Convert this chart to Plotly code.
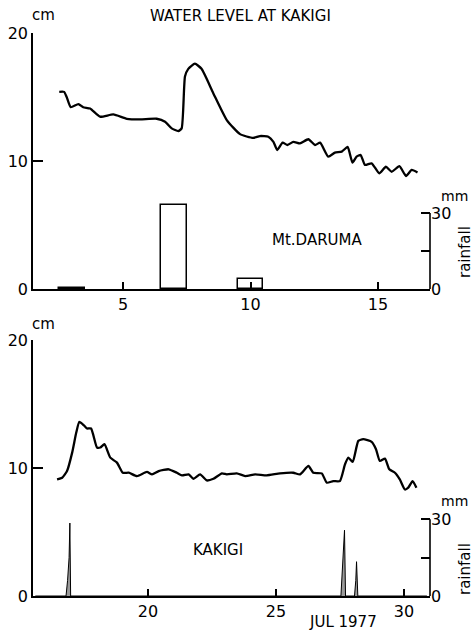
import plotly.graph_objects as go

# ---- data: water level at Kakigi (cm), July 1977 ----
top_day = [2.5, 2.69, 2.79, 2.95, 3.25, 3.44, 3.71, 4.1, 4.62, 5.15, 5.67, 6.32, 6.65, 6.91,
           7.17, 7.3, 7.43, 7.56, 7.82, 8.08, 8.54, 9.07, 9.59, 10.1, 10.37, 10.7, 10.9,
           11.05, 11.26, 11.45, 11.68, 11.94, 12.27, 12.53, 12.73, 13.05, 13.31, 13.58,
           13.81, 14.0, 14.16, 14.32, 14.49, 14.75, 15.05, 15.31, 15.54, 15.84, 16.1,
           16.32, 16.55]
top_level = [15.4, 15.4, 15.0, 14.2, 14.45, 14.2, 14.1, 13.46, 13.64, 13.3, 13.25, 13.3,
             13.07, 12.55, 12.34, 12.55, 16.6, 17.2, 17.6, 17.2, 15.3, 13.2, 12.1, 11.8,
             11.95, 11.9, 11.5, 10.86, 11.43, 11.25, 11.5, 11.38, 11.7, 11.25, 11.43,
             10.34, 10.65, 10.73, 11.1, 9.87, 10.34, 10.47, 9.69, 9.82, 9.04, 9.55, 9.16,
             9.6, 8.83, 9.3, 9.1]

bot_day = [16.45, 16.65, 16.84, 17.04, 17.2, 17.32, 17.49, 17.62, 17.78, 18.01, 18.14,
           18.3, 18.53, 18.79, 19.02, 19.25, 19.57, 19.96, 20.16, 20.42, 20.81, 21.13,
           21.33, 21.59, 21.78, 22.04, 22.3, 22.56, 22.89, 23.08, 23.47, 23.8, 24.19,
           24.64, 25.16, 25.68, 25.94, 26.27, 26.46, 26.79, 26.99, 27.24, 27.5, 27.7,
           27.83, 28.0, 28.22, 28.41, 28.74, 28.91, 29.06, 29.26, 29.43, 29.65, 29.84,
           30.04, 30.17, 30.34, 30.49]
bot_level = [9.11, 9.24, 9.76, 11.2, 12.77, 13.6, 13.35, 13.09, 13.09, 11.6, 11.6, 11.86,
             10.81, 10.42, 9.63, 9.63, 9.37, 9.69, 9.5, 9.76, 9.9, 9.63, 9.42, 9.5, 9.16,
             9.5, 9.03, 9.16, 9.58, 9.5, 9.58, 9.37, 9.5, 9.42, 9.58, 9.63, 9.5, 10.16,
             9.63, 9.58, 8.85, 8.98, 8.98, 10.29, 10.81, 10.47, 12.12, 12.25, 12.04, 11.47,
             10.55, 10.73, 9.9, 9.63, 9.11, 8.32, 8.46, 8.98, 8.46]

# ---- rainfall (mm) ----
daruma_day = [3, 7, 10]
daruma_rain = [0.3, 33, 4]

kakigi_rain_day = [15.6, 16.80, 16.86, 16.92, 16.95, 16.98, 27.54, 27.6, 27.66, 27.68,
                   27.72, 28.07, 28.12, 28.15, 28.2, 30.9]
kakigi_rain = [0, 0, 6, 15, 28.5, 0, 0, 10, 20, 25.7, 0, 0, 6, 13.4, 0, 0]

FONT = "DejaVu Sans"
BLACK = "black"

fig = go.Figure()
fig.add_trace(go.Scatter(x=top_day, y=top_level, mode="lines", xaxis="x", yaxis="y",
                         line=dict(color=BLACK, width=2.3, shape="spline", smoothing=0.5),
                         showlegend=False))
fig.add_trace(go.Bar(x=daruma_day, y=daruma_rain, width=1, xaxis="x", yaxis="y2",
                     marker=dict(color="white", line=dict(color=BLACK, width=1.5)),
                     showlegend=False))
fig.add_trace(go.Scatter(x=bot_day, y=bot_level, mode="lines", xaxis="x2", yaxis="y3",
                         line=dict(color=BLACK, width=2.3, shape="spline", smoothing=0.5),
                         showlegend=False))
fig.add_trace(go.Scatter(x=kakigi_rain_day, y=kakigi_rain, mode="lines", xaxis="x2",
                         yaxis="y4", fill="tozeroy", fillcolor="#9a9a9a",
                         line=dict(color=BLACK, width=1), showlegend=False))

xdom = [33 / 475, 430 / 475]
top_dom = [1 - 289 / 635, 1 - 33 / 635]
bot_dom = [1 - 596 / 635, 1 - 340 / 635]

ax_common = dict(showgrid=False, zeroline=False, showline=True, linecolor=BLACK,
                 linewidth=1.6, ticks="inside", tickcolor=BLACK, tickwidth=1.5,
                 automargin=False,
                 tickfont=dict(family=FONT, size=16, color=BLACK))
rain_ax = dict(side="right", tickvals=[0, 15, 30], ticktext=["0", "", "30"], ticklen=9,
               showgrid=False, zeroline=False, showline=False, ticks="inside",
               tickcolor=BLACK, tickwidth=1.5, automargin=False,
               tickfont=dict(family=FONT, size=16, color=BLACK))

fig.update_layout(
    width=475, height=635,
    margin=dict(l=0, r=0, t=0, b=0, autoexpand=False),
    paper_bgcolor="white", plot_bgcolor="white",
    font=dict(family=FONT, color=BLACK),
    bargap=0,
    xaxis=dict(domain=xdom, anchor="y", range=[1.47, 17.04], tickvals=[5, 10, 15],
               ticklen=7, **ax_common),
    yaxis=dict(domain=top_dom, anchor="x", range=[0, 20], tickvals=[0, 10, 20],
               ticklen=10, **ax_common),
    yaxis2=dict(overlaying="y", anchor="x", range=[0, 101], **rain_ax),
    xaxis2=dict(domain=xdom, anchor="y3", range=[15.51, 31.02], tickvals=[20, 25, 30],
                ticklen=7, **ax_common),
    yaxis3=dict(domain=bot_dom, anchor="x2", range=[0, 20], tickvals=[0, 10, 20],
                ticklen=10, **ax_common),
    yaxis4=dict(overlaying="y3", anchor="x2", range=[0, 100], **rain_ax),
)

# right-hand rainfall axis lines (0-30 mm only)
fig.add_shape(type="line", xref="x domain", x0=1, x1=1, yref="y2", y0=0, y1=30,
              line=dict(color=BLACK, width=1.6))
fig.add_shape(type="line", xref="x2 domain", x0=1, x1=1, yref="y4", y0=0, y1=30,
              line=dict(color=BLACK, width=1.6))

def label(text, x, y, size=15, angle=0):
    fig.add_annotation(text=text, x=x / 475, y=1 - y / 635, xref="paper", yref="paper",
                       xanchor="center", yanchor="middle",
                       showarrow=False, textangle=angle,
                       font=dict(family=FONT, size=size, color=BLACK))

label("WATER LEVEL AT KAKIGI", 240, 16, 15)
label("cm", 43, 15, 15)
label("cm", 43, 324, 15)
label("mm", 454, 196, 14)
label("mm", 454, 501, 14)
label("rainfall", 465, 252, 15, -90)
label("rainfall", 465, 569, 15, -90)
label("Mt.DARUMA", 317, 240, 15)
label("KAKIGI", 218, 550, 15)
label("JUL 1977", 343, 622, 15)

fig.write_html("out.html", config={"displayModeBar": False},
               post_script="document.body.style.margin='0';document.body.style.overflow='hidden';")
